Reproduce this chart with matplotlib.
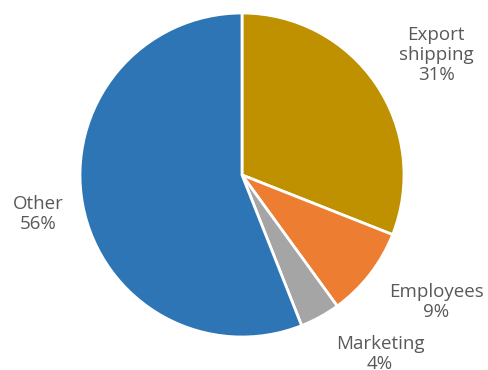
import matplotlib.pyplot as plt

# Expense breakdown
categories = ["Export\nshipping", "Employees", "Marketing", "Other"]
shares = [31, 9, 4, 56]
colors = ["#BF9000", "#ED7D31", "#A5A5A5", "#2E75B6"]

# label centres, in units of the pie radius
label_xy = [(1.198, 0.741), (1.198, -0.784), (0.852, -1.105), (-1.259, -0.241)]

plt.rcParams["font.family"] = ["Open Sans", "DejaVu Sans"]

fig = plt.figure(figsize=(4.89, 3.70), dpi=100)
ax = fig.add_axes([80 / 489, 33 / 370, 324 / 489, 324 / 370])

wedges, _ = ax.pie(shares, colors=colors, startangle=90, counterclock=False,
                   radius=1, wedgeprops=dict(edgecolor="white", linewidth=2))

for name, pct, (x, y) in zip(categories, shares, label_xy):
    ax.text(x, y, f"{name}\n{pct}%", ha="center", va="center",
            fontsize=13.5, color="#595959", linespacing=1.15, clip_on=False)

ax.set_xlim(-1, 1)
ax.set_ylim(-1, 1)
ax.set_aspect("equal")
ax.axis("off")

fig.savefig("out.png", dpi=100)
